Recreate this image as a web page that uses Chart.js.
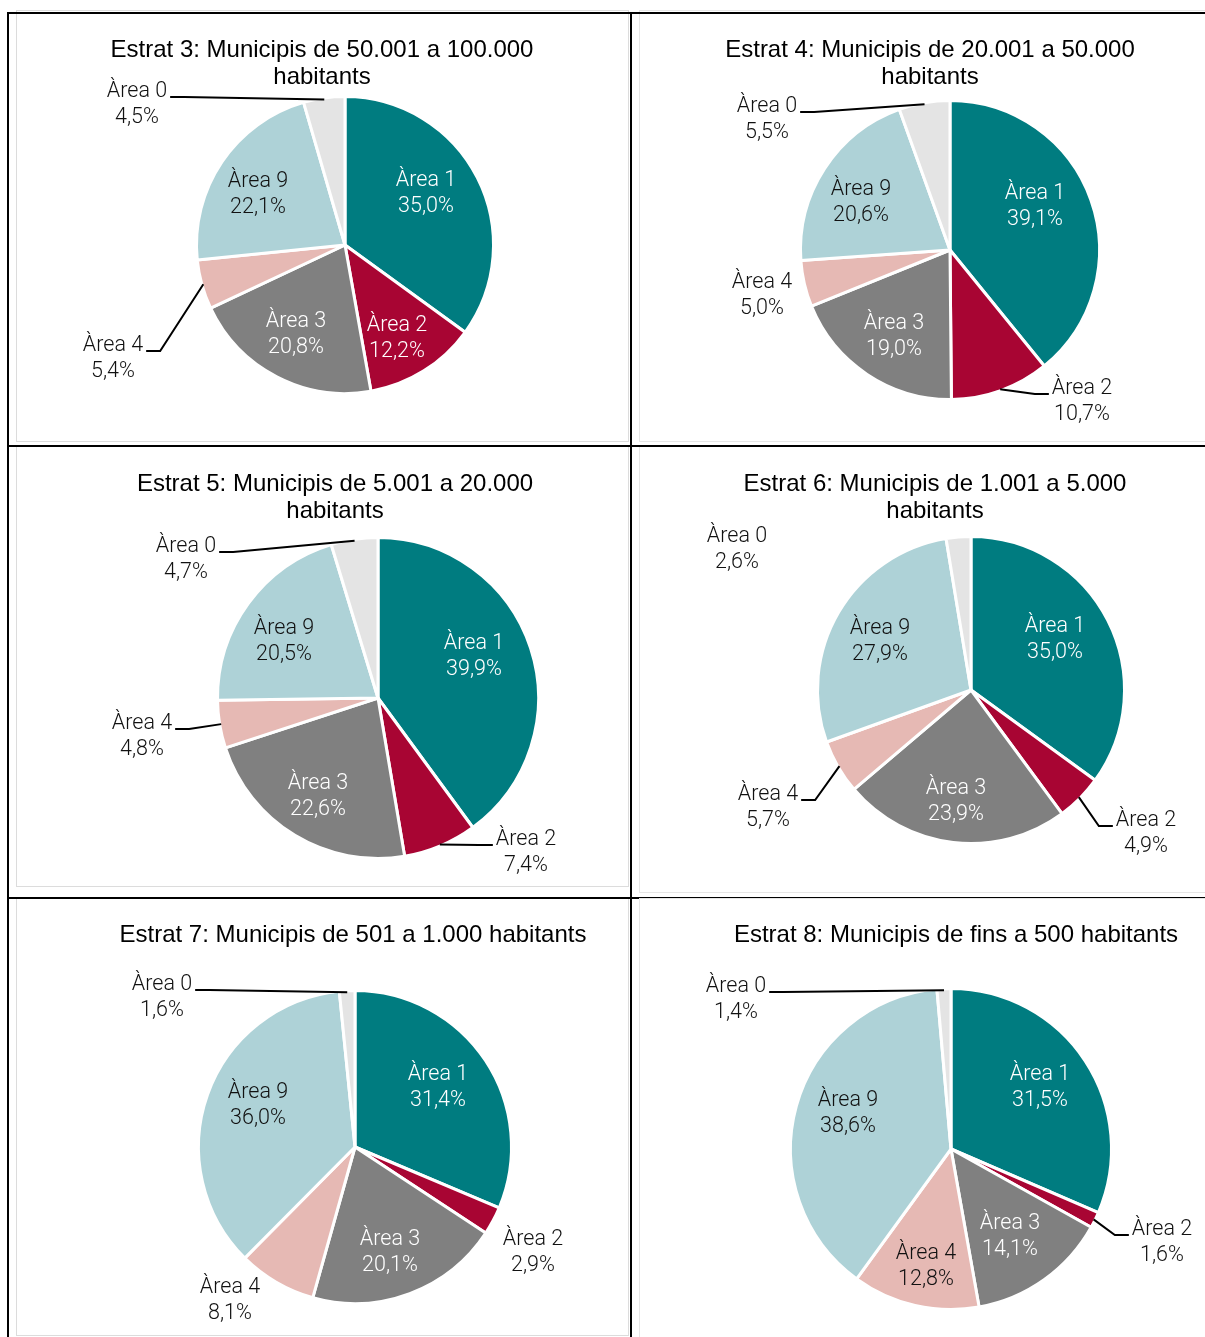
<!DOCTYPE html>
<html>
<head>
<meta charset="utf-8">
<script src="https://cdn.jsdelivr.net/npm/chart.js@4.4.0/dist/chart.umd.min.js"></script>
<style>
  body { margin: 0; background: #fff; }
  #page { position: relative; width: 1205px; height: 1337px; overflow: hidden; }
  .line { position: absolute; background: #000; }
  .frame { position: absolute; border: 1px solid #dcdcdc; box-sizing: border-box; }
  canvas { position: absolute; }
  .title {
    position: absolute; font-family: "Liberation Sans", Arial, sans-serif; font-size: 24px;
    line-height: 27px; color: #000; text-align: center; white-space: nowrap; transform: translateX(-50%);
  }
</style>
</head>
<body>
<div id="page"></div>
<script>
// data (order of the slices, clockwise from 12 o'clock)
var categories = ['Àrea 1', 'Àrea 2', 'Àrea 3', 'Àrea 4', 'Àrea 9', 'Àrea 0'];
var estrat3 = [35.0, 12.2, 20.8, 5.4, 22.1, 4.5];
var estrat4 = [39.1, 10.7, 19.0, 5.0, 20.6, 5.5];
var estrat5 = [39.9, 7.4, 22.6, 4.8, 20.5, 4.7];
var estrat6 = [35.0, 4.9, 23.9, 5.7, 27.9, 2.6];
var estrat7 = [31.4, 2.9, 20.1, 8.1, 36.0, 1.6];
var estrat8 = [31.5, 1.6, 14.1, 12.8, 38.6, 1.4];
var titles = [
  ['Estrat 3: Municipis de 50.001 a 100.000', 'habitants'],
  ['Estrat 4: Municipis de 20.001 a 50.000', 'habitants'],
  ['Estrat 5: Municipis de 5.001 a 20.000', 'habitants'],
  ['Estrat 6: Municipis de 1.001 a 5.000', 'habitants'],
  ['Estrat 7: Municipis de 501 a 1.000 habitants'],
  ['Estrat 8: Municipis de fins a 500 habitants']
];
var series = [estrat3, estrat4, estrat5, estrat6, estrat7, estrat8];

var colors = ['#007c80', '#a80533', '#808080', '#e6b9b4', '#aed2d7', '#e4e4e4'];
var insideText = ['#ffffff', '#ffffff', '#ffffff', '#111111', '#111111', '#111111'];

// layout: table cells, pie centre/radius, title anchor
var cells = [
  { x: 9, y: 14, w: 621, h: 431 }, { x: 632, y: 14, w: 573, h: 431 },
  { x: 9, y: 447, w: 621, h: 450 }, { x: 632, y: 447, w: 573, h: 450 },
  { x: 9, y: 899, w: 621, h: 438 }, { x: 632, y: 899, w: 573, h: 438 }
];
var pies = [
  { cx: 345, cy: 245, r: 147 }, { cx: 950, cy: 250, r: 148 },
  { cx: 378, cy: 698, r: 159 }, { cx: 971, cy: 690, r: 152 },
  { cx: 355, cy: 1147, r: 155 }, { cx: 951, cy: 1149, r: 159 }
];
var titlePos = [[322, 48], [930, 48], [335, 482], [935, 482], [353, 933], [956, 933]];

// label offsets from the pie centre: [dx, dy, mode] mode: 'in', 'out', 'lead' (outside with leader)
var labelPos = [
  [[81, -53, 'in'], [52, 92, 'in'], [-49, 88, 'in'], [-232, 112, 'lead'], [-87, -52, 'in'], [-208, -142, 'lead']],
  [[85, -45, 'in'], [132, 150, 'lead'], [-56, 85, 'in'], [-188, 44, 'out'], [-89, -49, 'in'], [-183, -132, 'lead']],
  [[96, -43, 'in'], [148, 153, 'lead'], [-60, 97, 'in'], [-236, 37, 'lead'], [-94, -58, 'in'], [-192, -140, 'lead']],
  [[84, -52, 'in'], [175, 142, 'lead'], [-15, 110, 'in'], [-203, 116, 'lead'], [-91, -50, 'in'], [-234, -142, 'out']],
  [[83, -61, 'in'], [178, 104, 'out'], [35, 104, 'in'], [-125, 152, 'out'], [-97, -43, 'in'], [-193, -151, 'lead']],
  [[89, -63, 'in'], [211, 92, 'lead'], [59, 86, 'in'], [-25, 116, 'in'], [-103, -37, 'in'], [-215, -151, 'lead']]
];

var page = document.getElementById('page');

function fmt(v) {
  return v.toFixed(1).replace('.', ',') + '%';
}

var areaLabels = {
  id: 'areaLabels',
  afterDatasetsDraw: function (chart, args, opts) {
    var ctx = chart.ctx;
    var meta = chart.getDatasetMeta(0);
    var values = chart.data.datasets[0].data;
    ctx.save();
    ctx.font = '300 21.5px Roboto, "Liberation Sans", sans-serif';
    ctx.textAlign = 'center';
    ctx.textBaseline = 'middle';
    meta.data.forEach(function (arc, i) {
      var p = opts.layout[i];
      var lx = arc.x + p[0], ly = arc.y + p[1];
      var line1 = chart.data.labels[i], line2 = fmt(values[i]);
      if (p[2] == 'lead') {
        var mid = (arc.startAngle + arc.endAngle) / 2;
        var rr = arc.outerRadius - 1.5;
        var px = arc.x + Math.cos(mid) * rr, py = arc.y + Math.sin(mid) * rr;
        var w1 = ctx.measureText(line1).width;
        var dir = lx < px ? 1 : -1;
        var sx = lx + dir * (w1 / 2 + 3), sy = ly - 6;
        ctx.beginPath();
        ctx.moveTo(sx, sy);
        ctx.lineTo(sx + dir * 14, sy);
        ctx.lineTo(px, py);
        ctx.strokeStyle = '#000';
        ctx.lineWidth = 2;
        ctx.stroke();
      }
      ctx.fillStyle = p[2] == 'in' ? insideText[i] : '#111111';
      ctx.fillText(line1, lx, ly - 11);
      ctx.fillText(line2, lx, ly + 15);
    });
    ctx.restore();
  }
};

series.forEach(function (values, k) {
  var cell = cells[k], pie = pies[k];
  var frame = document.createElement('div');
  frame.className = 'frame';
  page.appendChild(frame);

  var canvas = document.createElement('canvas');
  canvas.width = cell.w;
  canvas.height = cell.h;
  canvas.style.left = cell.x + 'px';
  canvas.style.top = cell.y + 'px';
  page.appendChild(canvas);

  var t = document.createElement('div');
  t.className = 'title';
  t.style.left = titlePos[k][0] + 'px';
  t.style.top = (titlePos[k][1] - 13.5) + 'px';
  t.innerHTML = titles[k].join('<br>');
  page.appendChild(t);

  // chart area = square around the pie (+3 for the white slice border)
  var r = pie.r + 3;
  new Chart(canvas, {
    type: 'pie',
    data: {
      labels: categories,
      datasets: [{
        data: values,
        backgroundColor: colors,
        borderColor: '#ffffff',
        borderWidth: 3
      }]
    },
    options: {
      responsive: false,
      animation: false,
      devicePixelRatio: 1,
      layout: {
        padding: {
          left: pie.cx - r - cell.x,
          top: pie.cy - r - cell.y,
          right: cell.x + cell.w - (pie.cx + r),
          bottom: cell.y + cell.h - (pie.cy + r)
        }
      },
      plugins: {
        legend: { display: false },
        tooltip: { enabled: false },
        title: { display: false },
        areaLabels: { layout: labelPos[k] }
      }
    },
    plugins: [areaLabels]
  });
});

// light frames of the pasted chart images
var frames = document.querySelectorAll('.frame');
var frameBoxes = [
  [16, 10, 613, 432], [639, 10, 600, 432],
  [16, 446, 613, 441], [639, 446, 600, 447],
  [16, 898, 613, 438], [639, 898, 600, 500]
];
frameBoxes.forEach(function (b, i) {
  frames[i].style.left = b[0] + 'px';
  frames[i].style.top = b[1] + 'px';
  frames[i].style.width = b[2] + 'px';
  frames[i].style.height = b[3] + 'px';
  if (i % 2 == 1) frames[i].style.borderColor = '#e6e6e6';
});

// table rules
[
  [7, 12, 1198, 2], [7, 12, 2, 1325], [630, 12, 2, 1325],
  [7, 445, 1198, 2], [7, 897, 632, 2], [639, 897, 566, 1]
].forEach(function (b) {
  var d = document.createElement('div');
  d.className = 'line';
  d.style.left = b[0] + 'px';
  d.style.top = b[1] + 'px';
  d.style.width = b[2] + 'px';
  d.style.height = b[3] + 'px';
  page.appendChild(d);
});
</script>
</body>
</html>
